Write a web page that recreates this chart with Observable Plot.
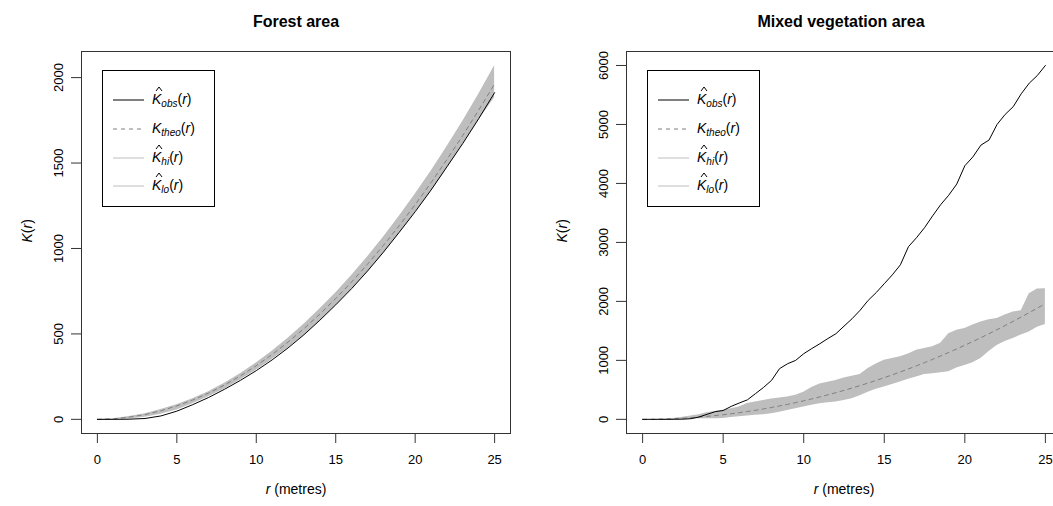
<!DOCTYPE html>
<html><head><meta charset="utf-8">
<script src="https://cdn.jsdelivr.net/npm/d3@7"></script>
<script src="https://cdn.jsdelivr.net/npm/@observablehq/plot@0.6"></script>
<style>
body{margin:0;background:#fff;font-family:Arial,"Liberation Sans",Helvetica,sans-serif;}
#wrap{position:relative;width:1053px;height:506px;overflow:hidden;background:#fff;}
.panel{position:absolute;top:0;}
.legend{position:absolute;top:70px;width:113px;height:137px;border:1px solid #000;background:#fff;box-sizing:border-box;}
.entry{position:absolute;left:0;width:110px;height:24px;}
.entry svg.sw{position:absolute;left:10px;top:0;}
.lab{position:absolute;left:49px;top:3px;font-size:14px;white-space:nowrap;color:#000;}
.k{position:relative;font-style:italic;}
.k svg{position:absolute;left:3px;top:-5px;overflow:visible;}
.lab sub{font-size:10px;font-style:italic;vertical-align:-3px;}
.lab i{font-style:italic;}
</style></head>
<body><div id="wrap"></div>
<script>
// ---------- data ----------
const xTicks = [0, 5, 10, 15, 20, 25];
const forestYTicks = [0, 500, 1000, 1500, 2000];
const mixedYTicks = [0, 1000, 2000, 3000, 4000, 5000, 6000];

const titles = ["Forest area", "Mixed vegetation area"];

// Forest area, r in whole metres
const forestR = [0,1,2,3,4,5,6,7,8,9,10,11,12,13,14,15,16,17,18,19,20,21,22,23,24,25];
const forestObs  = [0,0,1,5,20,48,86,128,176,228,285,348,418,495,580,670,765,868,978,1095,1215,1342,1478,1615,1760,1912];
const forestTheo = [0,3,13,28,50,79,113,154,201,254,314,380,452,531,616,707,804,908,1018,1134,1257,1385,1521,1662,1810,1963];
const forestHi   = [0,4,16,33,57,85,120,162,211,267,330,399,475,557,646,740,842,950,1066,1188,1318,1452,1596,1744,1902,2070];
const forestLo   = [0,0,2,12,30,55,92,132,178,230,288,350,418,492,575,665,760,862,972,1088,1210,1335,1470,1608,1750,1882];

// Mixed vegetation area, r in half metres
const mixedR = [0,0.5,1,1.5,2,2.5,3,3.5,4,4.5,5,5.5,6,6.5,7,7.5,8,8.5,9,9.5,10,10.5,11,11.5,12,12.5,13,13.5,14,14.5,15,15.5,16,16.5,17,17.5,18,18.5,19,19.5,20,20.5,21,21.5,22,22.5,23,23.5,24,24.5,25];
const mixedObs  = [0,0,0,0,1,3,11,40,85,130,150,220,277,330,435,540,660,860,943,1000,1113,1200,1282,1370,1452,1580,1706,1850,2017,2150,2300,2450,2620,2927,3080,3250,3450,3640,3800,3990,4300,4450,4650,4735,5000,5170,5300,5520,5700,5830,6000];
const mixedTheo = [0,0.8,3.1,7.1,12.6,19.6,28.3,38.5,50.3,63.6,78.5,95,113.1,132.7,153.9,176.7,201.1,227,254.5,283.5,314.2,346.4,380.1,415.5,452.4,490.9,530.9,572.6,615.8,660.5,706.9,754.8,804.2,855.3,907.9,962.1,1017.9,1075.2,1134.1,1194.6,1256.6,1320.3,1385.4,1452.2,1520.5,1590.4,1661.9,1734.9,1809.6,1885.7,1963.5];
const mixedHi   = [0,1,4,10,20,35,55,80,110,135,155,180,210,270,295,320,345,360,380,410,460,540,600,630,660,700,730,760,860,940,1000,1030,1060,1110,1170,1200,1230,1290,1450,1510,1540,1600,1650,1690,1710,1770,1820,1840,2130,2210,2215];
const mixedLo   = [0,0,0,0,0,2,5,8,10,12,15,30,45,55,68,80,96,120,150,180,210,240,265,280,295,320,350,400,460,510,550,590,635,680,720,760,775,790,805,870,915,960,1030,1150,1250,1320,1370,1430,1480,1560,1610];

// ---------- drawing ----------
const FONT = 'Arial, "Liberation Sans", Helvetica, sans-serif';
const wrap = document.getElementById("wrap");

function rowsOf(r, obs, theo, hi, lo) {
  return r.map((v, i) => ({r: v, obs: obs[i], theo: theo[i], hi: hi[i], lo: lo[i]}));
}

function panel({title, rows, yDomain, yTicks, left, width, marginLeft, marginRight, ylabDx, titleDx}) {
  const chart = Plot.plot({
    width, height: 506,
    marginLeft, marginRight, marginTop: 51, marginBottom: 73,
    x: {domain: [-1, 26], axis: null},
    y: {domain: yDomain, axis: null},
    style: {fontFamily: FONT, fontSize: "13px", background: "transparent", color: "#000", overflow: "visible"},
    marks: [
      Plot.areaY(rows, {x: "r", y1: "lo", y2: "hi", fill: "#bebebe"}),
      Plot.lineY(rows, {x: "r", y: "theo", stroke: "#808080", strokeWidth: 1, strokeDasharray: "4,4"}),
      Plot.lineY(rows, {x: "r", y: "obs", stroke: "#000", strokeWidth: 1}),
      Plot.frame({stroke: "#333", strokeWidth: 1}),
      Plot.axisX({ticks: xTicks, tickSize: 10, tickPadding: 11, fontSize: 13, tickFormat: d => String(d), label: null, stroke: "#333"}),
      Plot.axisY({ticks: yTicks, tickSize: 10, tickPadding: 9, tickRotate: -90, fontSize: 13, tickFormat: d => String(d), label: null, stroke: "#333"}),
      Plot.text([title], {frameAnchor: "top", dy: -36, dx: titleDx, fontWeight: "bold", fontSize: 16}),
      Plot.text(["K(r)"], {frameAnchor: "left", dx: ylabDx, rotate: -90, fontSize: 14}),
      Plot.text(["r (metres)"], {frameAnchor: "bottom", dy: 60, fontSize: 14})
    ]
  });
  chart.classList.add("panel");
  chart.style.left = left + "px";
  wrap.appendChild(chart);
  // math-style italics for symbols
  d3.select(chart).selectAll("text").each(function() {
    const t = this.textContent;
    if (t === "K(r)") {
      this.innerHTML = '<tspan font-style="italic">K</tspan>(<tspan font-style="italic">r</tspan>)';
    } else if (t === "r (metres)") {
      this.innerHTML = '<tspan font-style="italic">r</tspan> (metres)';
    }
  });
}

function legend(left) {
  const entries = [
    {hat: true, sub: "obs", stroke: "#000", dash: null},
    {hat: false, sub: "theo", stroke: "#808080", dash: "4,4"},
    {hat: true, sub: "hi", stroke: "#bebebe", dash: null},
    {hat: true, sub: "lo", stroke: "#bebebe", dash: null}
  ];
  const tops = [17, 46, 75, 103];
  const hatSvg = '<svg width="8" height="5"><polyline points="1,5 4,1 7,5" fill="none" stroke="#000" stroke-width="1"/></svg>';
  const div = document.createElement("div");
  div.className = "legend";
  div.style.left = left + "px";
  entries.forEach((e, i) => {
    const row = document.createElement("div");
    row.className = "entry";
    row.style.top = tops[i] + "px";
    row.innerHTML =
      `<svg class="sw" width="32" height="24"><line x1="0" x2="31" y1="12" y2="12" stroke="${e.stroke}" stroke-width="1" ${e.dash ? `stroke-dasharray="${e.dash}"` : ""}/></svg>` +
      `<span class="lab"><span class="k">K${e.hat ? hatSvg : ""}</span><sub>${e.sub}</sub>(<i>r</i>)</span>`;
    div.appendChild(row);
  });
  wrap.appendChild(div);
}

panel({
  title: titles[0],
  rows: rowsOf(forestR, forestObs, forestTheo, forestHi, forestLo),
  yDomain: [-82.8, 2152.8], yTicks: forestYTicks,
  left: 0, width: 526, marginLeft: 81, marginRight: 16, ylabDx: -54, titleDx: 0
});
panel({
  title: titles[1],
  rows: rowsOf(mixedR, mixedObs, mixedTheo, mixedHi, mixedLo),
  yDomain: [-240, 6237], yTicks: mixedYTicks,
  left: 526, width: 535, marginLeft: 100, marginRight: 0, ylabDx: -64, titleDx: -3
});
legend(102);
legend(647);
</script>
</body></html>
